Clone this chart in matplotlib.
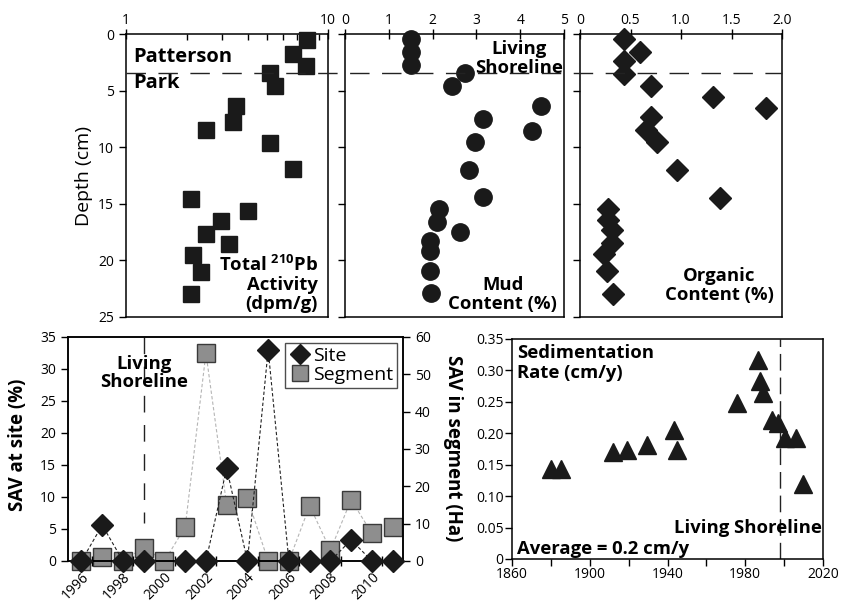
import matplotlib
matplotlib.use("Agg")
import matplotlib.pyplot as plt
import numpy as np
from matplotlib.lines import Line2D
from matplotlib.transforms import blended_transform_factory
from matplotlib.ticker import FixedLocator, NullFormatter, FuncFormatter

plt.rcParams['font.family'] = ['Open Sans', 'DejaVu Sans']
plt.rcParams['mathtext.fontset'] = 'custom'
plt.rcParams['mathtext.rm'] = 'Open Sans'
plt.rcParams['mathtext.bf'] = 'Open Sans:bold'
plt.rcParams['axes.linewidth'] = 1.1

# ---------------- data ----------------
# Core profiles (depth in cm)
pb_depth = [0.56, 1.74, 2.8, 3.45, 4.62, 6.39, 7.77, 8.45, 9.63, 11.9, 14.6, 15.6, 16.5, 17.7, 18.55, 19.55, 21.05, 23.0]
pb_activity = [7.87, 6.71, 7.81, 5.19, 5.49, 3.50, 3.39, 2.49, 5.19, 6.71, 2.09, 4.02, 2.97, 2.50, 3.24, 2.15, 2.34, 2.09]

mud_depth = [0.44, 1.59, 2.77, 3.45, 4.62, 6.39, 7.48, 8.54, 9.54, 11.98, 14.4, 15.5, 16.6, 17.5, 18.26, 19.2, 20.97, 22.9]
mud_content = [1.51, 1.51, 1.51, 2.75, 2.44, 4.47, 3.14, 4.26, 2.97, 2.84, 3.14, 2.15, 2.09, 2.63, 1.93, 1.93, 1.93, 1.96]

org_depth = [0.44, 1.62, 2.41, 3.53, 4.62, 5.57, 6.54, 7.33, 8.45, 9.54, 12.04, 14.5, 15.46, 16.4, 17.35, 18.5, 19.4, 20.97, 23.0]
org_content = [0.44, 0.59, 0.44, 0.44, 0.70, 1.32, 1.84, 0.70, 0.65, 0.76, 0.96, 1.39, 0.28, 0.28, 0.32, 0.32, 0.24, 0.27, 0.33]

shoreline_depth = 3.45

# SAV time series
years = list(range(1996, 2012))
sav_site = [0, 5.6, 0, 0, np.nan, 0, 0, 14.5, 0, 33.0, 0, 0, 0, 3.3, 0, 0]
sav_segment = [0, 1.0, 0, 3.6, 0, 9.1, 55.7, 15.0, 16.8, 0, 0, 14.8, 2.9, 16.4, 7.4, 9.1]
year_labels = [1996, 1998, 2000, 2002, 2004, 2006, 2008, 2010]
shoreline_year_sav = 1999

# Sedimentation rate
sed_year = [1880.2, 1885.2, 1911.9, 1919.1, 1929.3, 1943.6, 1944.8, 1975.9, 1986.7, 1987.6, 1989.3, 1993.6, 1996.6, 2000.4, 2006.1, 2009.5]
sed_rate = [0.143, 0.143, 0.170, 0.173, 0.182, 0.205, 0.173, 0.248, 0.317, 0.283, 0.264, 0.221, 0.216, 0.192, 0.192, 0.120]
shoreline_year_sed = 1998

# ---------------- figure ----------------
W, H = 856, 601
fig = plt.figure(figsize=(W / 100, H / 100), dpi=100)

def rect(l, t, r, b):
    return [l / W, 1 - b / H, (r - l) / W, (b - t) / H]

ax1 = fig.add_axes(rect(126, 34, 328, 317))
ax2 = fig.add_axes(rect(345, 34, 564, 317))
ax3 = fig.add_axes(rect(580, 34, 782, 317))
ax4 = fig.add_axes(rect(68, 337, 403, 561))
ax6 = fig.add_axes(rect(512, 339, 823, 559))

MK = '#1a1a1a'
BF = 13.3
TF = 10
LS = 1.08

for ax in (ax1, ax2, ax3):
    ax.set_ylim(25, 0)
    ax.yaxis.set_major_locator(FixedLocator([0, 5, 10, 15, 20, 25]))
    ax.xaxis.tick_top()
    ax.tick_params(axis='x', which='major', direction='inout', length=7, width=1, labelsize=TF, pad=1, top=True, bottom=False)
    ax.tick_params(axis='x', which='minor', direction='in', length=4, width=1, top=True, bottom=False)
    ax.tick_params(axis='y', which='major', direction='out', length=5, width=1, labelsize=TF, right=False)

# Panel 1: Pb activity (log)
ax1.set_xscale('log')
ax1.set_xlim(1, 10)
ax1.xaxis.set_major_locator(FixedLocator([1, 10]))
ax1.xaxis.set_minor_locator(FixedLocator([2, 3, 4, 5, 6, 7, 8, 9]))
ax1.xaxis.set_major_formatter(FuncFormatter(lambda v, p: f"{v:g}"))
ax1.xaxis.set_minor_formatter(NullFormatter())
ax1.plot(pb_activity, pb_depth, 's', color=MK, ms=11, mec=MK, ls='none', zorder=3, clip_on=False)
ax1.set_ylabel('Depth (cm)', fontsize=14, labelpad=4)
ax1.text(0.035, 0.955, 'Patterson\nPark', transform=ax1.transAxes, fontsize=14.5, fontweight='bold',
         va='top', ha='left', linespacing=1.4)
ax1.text(0.95, 0.015, 'Total $\\mathbf{^{210}}$Pb\nActivity\n(dpm/g)', transform=ax1.transAxes,
         fontsize=BF, fontweight='bold', ha='right', va='bottom', multialignment='right', linespacing=LS)

# Panel 2: Mud
ax2.set_xlim(0, 5)
ax2.xaxis.set_major_locator(FixedLocator([0, 1, 2, 3, 4, 5]))
ax2.set_yticklabels([])
ax2.plot(mud_content, mud_depth, 'o', color=MK, ms=12.5, mec=MK, ls='none', zorder=3, clip_on=False)
ax2.text(0.795, 0.98, 'Living\nShoreline', transform=ax2.transAxes, fontsize=BF, fontweight='bold',
         ha='center', va='top', multialignment='center', linespacing=LS)
ax2.text(0.72, 0.015, 'Mud\nContent (%)', transform=ax2.transAxes, fontsize=BF, fontweight='bold',
         ha='center', va='bottom', multialignment='center', linespacing=LS)

# Panel 3: Organic
ax3.set_xlim(0, 2.0)
ax3.xaxis.set_major_locator(FixedLocator([0, 0.5, 1.0, 1.5, 2.0]))
ax3.xaxis.set_major_formatter(FuncFormatter(lambda v, p: '0' if v == 0 else f"{v:.1f}"))
ax3.set_yticklabels([])
ax3.plot(org_content, org_depth, 'D', color=MK, ms=11, mec=MK, ls='none', zorder=3, clip_on=False)
ax3.text(0.69, 0.045, 'Organic\nContent (%)', transform=ax3.transAxes, fontsize=BF, fontweight='bold',
         ha='center', va='bottom', multialignment='center', linespacing=LS)

# Shoreline dashed line across the three top panels
x_left = ax1.get_position().x0
x_right = ax3.get_position().x1
tr = blended_transform_factory(fig.transFigure, ax1.transData)
fig.add_artist(Line2D([x_left, x_right], [shoreline_depth, shoreline_depth], transform=tr,
                      color='#222222', lw=1.0, ls=(0, (14, 9)), zorder=5))

# ---------------- SAV time series ----------------
ax5 = ax4.twinx()
ax4.set_xlim(1995.35, 2011.5)
ax4.set_ylim(0, 35)
ax5.set_ylim(0, 60)
ax4.yaxis.set_major_locator(FixedLocator(np.arange(0, 36, 5)))
ax5.yaxis.set_major_locator(FixedLocator(np.arange(0, 61, 10)))
ax4.xaxis.set_major_locator(FixedLocator(year_labels))
ax4.set_xticklabels([str(y) for y in year_labels], rotation=45, ha='right', rotation_mode='anchor', fontsize=TF)
ax4.xaxis.set_minor_locator(FixedLocator(np.arange(1996.5, 2011, 2)))
ax4.tick_params(axis='x', which='major', length=0, pad=6)
ax4.tick_params(axis='x', which='minor', direction='inout', length=7, width=1)
ax4.tick_params(axis='y', direction='out', length=5, width=1, labelsize=TF)
ax5.tick_params(axis='y', direction='out', length=5, width=1, labelsize=TF)

ax5.plot(years, sav_segment, color='#b5b5b5', lw=0.8, ls=(0, (3, 2)), zorder=1)
ax5.plot(years, sav_segment, 's', color='#8e8e8e', mec='#3a3a3a', mew=1.0, ms=12.5, ls='none', zorder=2, clip_on=False)
ax4.set_zorder(ax5.get_zorder() + 1)
ax4.patch.set_visible(False)
ax4.plot(years, sav_site, color='#222222', lw=0.8, ls=(0, (3, 2)), zorder=2)
ax4.plot(years, sav_site, 'D', color=MK, mec=MK, ms=11, ls='none', zorder=3, clip_on=False)

ax4.plot([shoreline_year_sav, shoreline_year_sav], [35, 6], color='#222222', lw=1.0, ls=(0, (12, 9)), zorder=1)
ax4.text(shoreline_year_sav, 29.3, 'Living\nShoreline', fontsize=BF, fontweight='bold', ha='center', va='center',
         multialignment='center', linespacing=1.0, zorder=4)

h1 = Line2D([], [], marker='D', color=MK, ms=10, ls='none')
h2 = Line2D([], [], marker='s', color='#8e8e8e', mec='#3a3a3a', ms=12, ls='none')
leg = ax4.legend([h1, h2], ['Site', 'Segment'], loc='upper right', fontsize=14, frameon=True, fancybox=False,
                 borderpad=0.2, handletextpad=0.15, handlelength=1.1, labelspacing=0.08, borderaxespad=0.3)
leg.get_frame().set_edgecolor('#222222')
leg.get_frame().set_linewidth(1.0)

fig.text(18 / W, 1 - 445 / H, 'SAV at site (%)', rotation=90, fontsize=13.5, fontweight='bold', ha='center', va='center')
fig.text(453 / W, 1 - 448 / H, 'SAV in segment (Ha)', rotation=270, fontsize=13.5, fontweight='bold', ha='center', va='center')

# ---------------- Sedimentation rate ----------------
ax6.set_xlim(1860, 2020)
ax6.set_ylim(0, 0.35)
ax6.xaxis.set_major_locator(FixedLocator([1860, 1900, 1940, 1980, 2020]))
ax6.xaxis.set_minor_locator(FixedLocator([1880, 1920, 1960, 2000]))
ax6.yaxis.set_major_locator(FixedLocator(np.arange(0, 0.351, 0.05)))
ax6.yaxis.set_major_formatter(FuncFormatter(lambda v, p: '0' if abs(v) < 1e-9 else f"{v:.2f}"))
ax6.tick_params(axis='both', which='both', direction='out', length=5, width=1, labelsize=TF, pad=1)
ax6.plot(sed_year, sed_rate, '^', color=MK, mec=MK, ms=13.5, ls='none', zorder=3)
ax6.axvline(shoreline_year_sed, color='#222222', lw=1.0, ls=(0, (12, 5)), zorder=1)
ax6.text(0.015, 0.975, 'Sedimentation\nRate (cm/y)', transform=ax6.transAxes, fontsize=BF, fontweight='bold',
         ha='left', va='top', linespacing=LS)
ax6.text(0.997, 0.14, 'Living Shoreline', transform=ax6.transAxes, fontsize=BF, fontweight='bold',
         ha='right', va='center')
ax6.text(0.015, 0.045, 'Average = 0.2 cm/y', transform=ax6.transAxes, fontsize=BF, fontweight='bold',
         ha='left', va='center')

fig.savefig('out.png', dpi=100)
